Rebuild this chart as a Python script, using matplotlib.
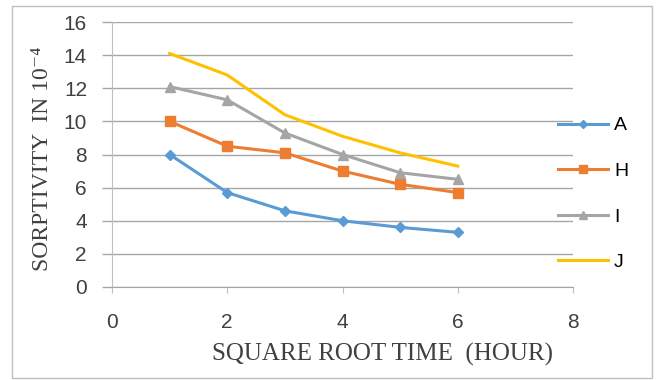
import matplotlib
matplotlib.use("Agg")
import matplotlib.pyplot as plt
from matplotlib.patches import Rectangle

x = [1, 2, 3, 4, 5, 6]
A = [8.0, 5.7, 4.6, 4.0, 3.6, 3.3]
H = [10.0, 8.5, 8.1, 7.0, 6.2, 5.7]
I = [12.1, 11.3, 9.3, 8.0, 6.9, 6.5]
J = [14.1, 12.8, 10.4, 9.1, 8.1, 7.3]
series_names = ["A", "H", "I", "J"]
xticks = [0, 2, 4, 6, 8]
yticks = [0, 2, 4, 6, 8, 10, 12, 14, 16]

fig = plt.figure(figsize=(6.6, 3.8), dpi=100)
ax = fig.add_axes([112/660, 1-287/380, (573-112)/660, (287-22)/380])

styles = [
    dict(color="#5B9BD5", marker="D", markersize=5),
    dict(color="#ED7D31", marker="s", markersize=7),
    dict(color="#A5A5A5", marker="^", markersize=7),
    dict(color="#FFC000", marker=None),
]
for name, ys, st in zip(series_names, [A, H, I, J], styles):
    ax.plot(x, ys, label=name, linewidth=2.2, **st)

ax.set_xlim(0, 8)
ax.set_ylim(0, 16)
ax.set_xticks(xticks)
ax.set_yticks(yticks)
ax.grid(axis="y", color="#A6A6A6", linewidth=1)
ax.set_axisbelow(True)
for s in ["top", "right"]:
    ax.spines[s].set_visible(False)
ax.spines["left"].set_color("#BFBFBF")
ax.spines["bottom"].set_color("#A6A6A6")
ax.tick_params(axis="y", length=7, width=1, color="#A6A6A6", labelsize=15, pad=11, labelcolor="#404040")
ax.tick_params(axis="x", length=4, color="#BFBFBF", labelsize=15, pad=15, labelcolor="#404040")
for lab in ax.get_xticklabels() + ax.get_yticklabels():
    lab.set_family("Liberation Sans")

ax.set_xlabel("SQUARE ROOT TIME  (HOUR)", family=["Liberation Serif", "DejaVu Serif"], fontsize=18, color="#404040")
ax.xaxis.set_label_coords(0.586, -0.211)
ax.set_ylabel("SORPTIVITY  IN 10\u207b\u2074", family=["Liberation Serif", "DejaVu Serif"], fontsize=17, color="#404040")
ax.yaxis.set_label_coords(-0.128, 0.483)

fig.legend(loc="center left", bbox_to_anchor=(540/660, 1-194/380), frameon=False,
           labelspacing=1.44, handlelength=2.6, handletextpad=0.3, markerscale=0.8,
           prop={"family": "Liberation Sans", "size": 14})

fig.patches.append(Rectangle((12/660, 2/380), (652-12)/660, (377-5)/380, transform=fig.transFigure,
                             fill=False, edgecolor="#BFBFBF", linewidth=1))

fig.savefig("out.png", dpi=100)
